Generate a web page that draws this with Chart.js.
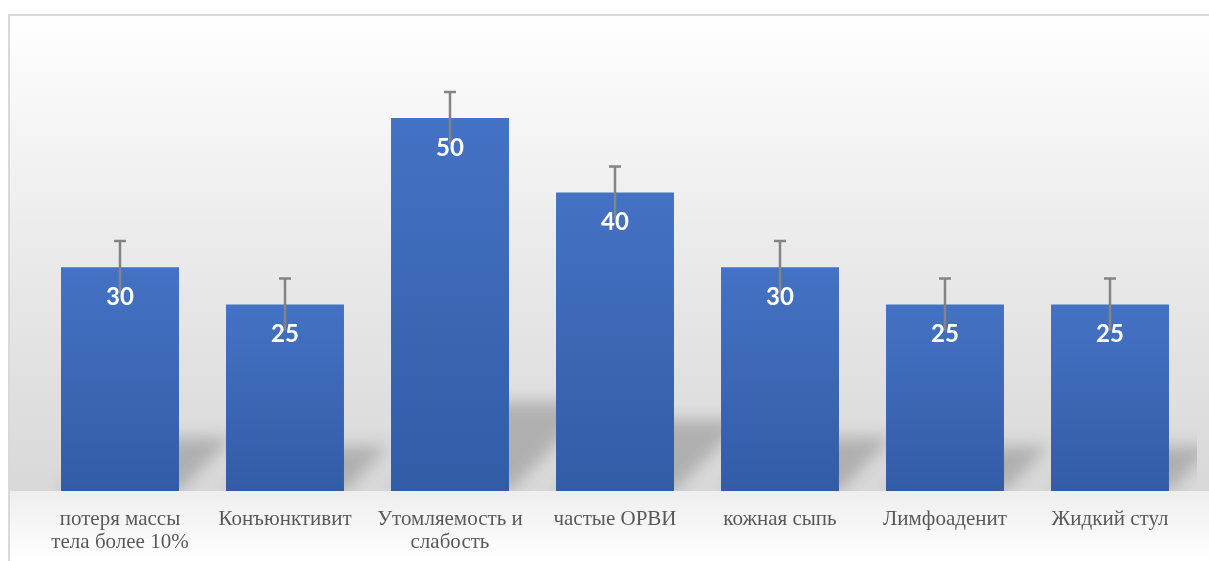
<!DOCTYPE html>
<html>
<head>
<meta charset="utf-8">
<script src="https://cdn.jsdelivr.net/npm/chart.js@4"></script>
<style>
    html, body { margin: 0; padding: 0; background: #ffffff; }
    #wrap { width: 1209px; height: 561px; position: relative; }
</style>
</head>
<body>
<div id="wrap"><canvas id="chart"></canvas></div>
<script>
(function () {
    "use strict";

    // ======================================================================
    // Data
    //
    const categories = [
        ['потеря массы', 'тела более 10%'],
        'Конъюнктивит',
        ['Утомляемость и', 'слабость'],
        'частые ОРВИ',
        'кожная сыпь',
        'Лимфоаденит',
        'Жидкий стул'
    ];
    const values = [30, 25, 50, 40, 30, 25, 25];
    const errors = [3.5, 3.5, 3.5, 3.5, 3.5, 3.5, 3.5];

    // ======================================================================
    // Background, frame and bar shadows
    //
    const backdrop = {
        id: 'backdrop',
        beforeDraw(chart) {
            const { ctx, width, height, chartArea } = chart;
            ctx.save();
            ctx.fillStyle = '#ffffff';
            ctx.fillRect(0, 0, width, height);

            let g = ctx.createLinearGradient(0, 15, 0, chartArea.bottom);
            g.addColorStop(0, '#ffffff');
            g.addColorStop(0.45, '#ececec');
            g.addColorStop(1, '#d8d8d8');
            ctx.fillStyle = g;
            ctx.fillRect(9, 16, width - 9, chartArea.bottom - 16);

            g = ctx.createLinearGradient(0, chartArea.bottom, 0, height);
            g.addColorStop(0, '#eeeeee');
            g.addColorStop(1, '#ffffff');
            ctx.fillStyle = g;
            ctx.fillRect(9, chartArea.bottom, width - 9, height - chartArea.bottom);

            ctx.strokeStyle = '#d9d9d9';
            ctx.lineWidth = 2;
            ctx.beginPath();
            ctx.moveTo(9, height);
            ctx.lineTo(9, 15);
            ctx.lineTo(width, 15);
            ctx.stroke();
            ctx.restore();
        },
        beforeDatasetsDraw(chart) {
            const { ctx, chartArea } = chart;
            const meta = chart.getDatasetMeta(0);
            ctx.save();
            ctx.beginPath();
            ctx.rect(chartArea.left, chartArea.top, 1197 - chartArea.left, chartArea.bottom - chartArea.top);
            ctx.clip();
            ctx.filter = 'blur(8px)';
            ctx.fillStyle = 'rgba(110,110,110,0.40)';
            meta.data.forEach(bar => {
                const x0 = bar.x - bar.width / 2, x1 = bar.x + bar.width / 2;
                const h = (bar.base - bar.y) * 0.24, s = 1.0 * h;
                ctx.beginPath();
                ctx.moveTo(x0, bar.base);
                ctx.lineTo(x1, bar.base);
                ctx.lineTo(x1 + s, bar.base - h);
                ctx.lineTo(x0 + s, bar.base - h);
                ctx.closePath();
                ctx.fill();
            });
            ctx.restore();
        }
    };

    // ======================================================================
    // Error bars and value labels
    //
    const overlay = {
        id: 'overlay',
        afterDatasetsDraw(chart) {
            const { ctx } = chart;
            const y = chart.scales.y;
            const meta = chart.getDatasetMeta(0);
            ctx.save();
            meta.data.forEach((bar, i) => {
                const top = y.getPixelForValue(values[i] + errors[i]);
                const low = y.getPixelForValue(values[i] - errors[i]);
                ctx.strokeStyle = '#848484';
                ctx.lineWidth = 2.5;
                ctx.beginPath();
                ctx.moveTo(bar.x, low);
                ctx.lineTo(bar.x, top);
                ctx.moveTo(bar.x - 6, top);
                ctx.lineTo(bar.x + 6, top);
                ctx.stroke();

                ctx.fillStyle = '#ffffff';
                ctx.font = 'bold 24px Lato';
                ctx.textAlign = 'center';
                ctx.textBaseline = 'middle';
                ctx.fillText(String(values[i]), bar.x, bar.y + 30);
            });
            ctx.restore();
        }
    };

    // ======================================================================
    // Chart
    //
    const barFill = function (context) {
        const chart = context.chart;
        if (!chart.chartArea) return '#4472c4';
        const y = chart.scales.y;
        const top = y.getPixelForValue(values[context.dataIndex]);
        const g = chart.ctx.createLinearGradient(0, top, 0, y.getPixelForValue(0));
        g.addColorStop(0, '#4472c4');
        g.addColorStop(1, '#335ca7');
        return g;
    };

    new Chart(document.getElementById('chart'), {
        type: 'bar',
        data: {
            labels: categories,
            datasets: [{
                data: values,
                backgroundColor: barFill,
                borderWidth: 0,
                categoryPercentage: 1,
                barPercentage: 0.715
            }]
        },
        options: {
            responsive: true,
            maintainAspectRatio: false,
            animation: false,
            events: [],
            layout: { padding: { left: 37.5, right: 16.5, top: 43.4, bottom: 0 } },
            plugins: {
                legend: { display: false },
                tooltip: { enabled: false }
            },
            scales: {
                y: { display: false, min: 0, max: 60 },
                x: {
                    grid: { display: false },
                    border: { display: false },
                    afterFit: scale => { scale.height = 70; },
                    ticks: {
                        padding: 9,
                        maxRotation: 0,
                        autoSkip: false,
                        color: '#595959',
                        font: { family: '"Liberation Serif", "Times New Roman", serif', size: 21, lineHeight: 1.1 }
                    }
                }
            }
        },
        plugins: [backdrop, overlay]
    });
})();
</script>
</body>
</html>
